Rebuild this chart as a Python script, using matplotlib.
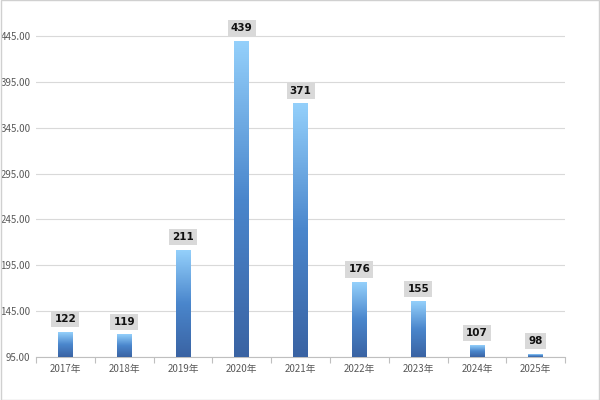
import matplotlib
matplotlib.use("Agg")
import matplotlib.pyplot as plt
import numpy as np
from matplotlib.colors import LinearSegmentedColormap
from matplotlib.patches import Rectangle

plt.rcParams['font.family'] = ['Noto Sans CJK SC', 'DejaVu Sans']

categories = ["2017年", "2018年", "2019年", "2020年", "2021年", "2022年", "2023年", "2024年", "2025年"]
values = [122, 119, 211, 439, 371, 176, 155, 107, 98]
yticks = [95, 145, 195, 245, 295, 345, 395, 445]

fig = plt.figure(figsize=(6, 4), dpi=100)
ax = fig.add_axes([0.06, 0.1075, 0.882, 0.86])
ymin, ymax = 95, 470

cmap = LinearSegmentedColormap.from_list("g", ["#3a63a3", "#4a86cc", "#94d0fb"])
grad = np.linspace(0, 1, 256).reshape(-1, 1)
w = 0.25
for i, v in enumerate(values):
    ax.imshow(grad, extent=(i - w / 2, i + w / 2, ymin, v), origin='lower',
              cmap=cmap, aspect='auto', zorder=3)
    ax.text(i, v + 9, str(v), ha='center', va='bottom', fontsize=7.5, fontweight='bold',
            color='#111111', zorder=4, family=['DejaVu Sans'],
            bbox=dict(boxstyle='square,pad=0.3', fc='#d9d9d9', ec='none'))
ax.set_xlim(-0.5, len(categories) - 0.5)
ax.set_ylim(ymin, ymax)

ax.set_yticks(yticks)
ax.set_yticklabels([f"{t:.2f}" for t in yticks])
ax.set_xticks(range(len(categories)))
ax.set_xticklabels(categories)
ax.set_xticks(np.arange(-0.5, len(categories), 1), minor=True)
ax.tick_params(axis='x', which='major', length=0, labelsize=7, colors='#595959', pad=5)
ax.tick_params(axis='x', which='minor', length=4, color='#bfbfbf', width=0.8)
ax.tick_params(axis='y', length=0, labelsize=7, colors='#595959', pad=4)
ax.grid(axis='y', color='#d9d9d9', linewidth=0.8, zorder=0)
ax.set_axisbelow(True)
for s in ['left', 'right', 'top']:
    ax.spines[s].set_visible(False)
ax.spines['bottom'].set_color('#bfbfbf')
ax.spines['bottom'].set_linewidth(0.8)

fig.patches.append(Rectangle((0.001, 0.001), 0.998, 0.998, transform=fig.transFigure,
                             fill=False, ec='#d0d0d0', lw=1))

fig.savefig("out.png", dpi=100)
